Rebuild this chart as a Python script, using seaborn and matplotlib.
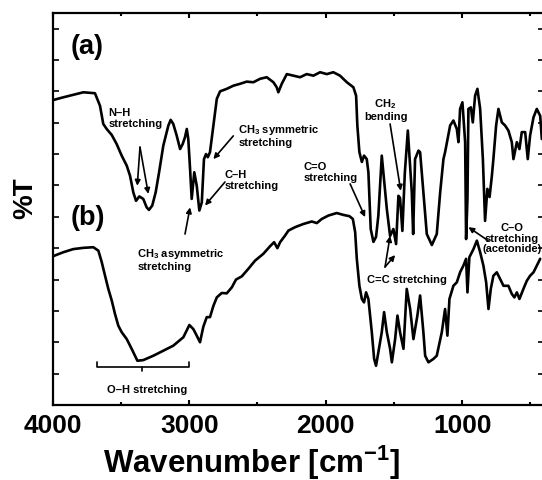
import matplotlib
matplotlib.use("Agg")
import matplotlib.pyplot as plt
import seaborn as sns
import pandas as pd

# ---- data (wavenumber in cm-1, %T in arbitrary offset units) ----
wn_a = [4000, 3923, 3776, 3691, 3654, 3630, 3605, 3568, 3532, 3495,
        3458, 3434, 3410, 3390, 3366, 3337, 3312, 3295, 3271, 3246,
        3221, 3190, 3153, 3136, 3117, 3092, 3067, 3048, 3031, 3018,
        3007, 2994, 2982, 2963, 2945, 2926, 2908, 2892, 2877, 2864,
        2848, 2823, 2798, 2774, 2725, 2677, 2628, 2579, 2530, 2481,
        2432, 2383, 2359, 2347, 2322, 2285, 2237, 2188, 2139, 2090,
        2041, 1992, 1944, 1895, 1845, 1797, 1777, 1768, 1753, 1735,
        1719, 1699, 1687, 1670, 1650, 1631, 1614, 1589, 1552, 1528,
        1504, 1484, 1467, 1455, 1438, 1420, 1398, 1369, 1359, 1345,
        1320, 1308, 1284, 1259, 1222, 1186, 1161, 1137, 1125, 1088,
        1064, 1039, 1027, 1015, 998, 978, 971, 961, 954, 936,
        922, 905, 888, 868, 848, 832, 815, 799, 782, 771,
        751, 734, 709, 685, 661, 636, 624, 599, 580, 563,
        538, 519, 502, 477, 453, 428, 416]
t_a = [9.72, 9.81, 9.97, 9.94, 9.54, 8.96, 8.80, 8.61, 8.32, 7.95,
       7.63, 7.31, 6.78, 6.51, 6.65, 6.57, 6.30, 6.22, 6.36, 6.78,
       7.42, 8.27, 8.91, 9.09, 8.96, 8.59, 8.16, 8.32, 8.54, 8.80,
       8.48, 7.53, 6.57, 7.42, 6.99, 6.20, 6.46, 7.84, 8.00, 7.90,
       8.06, 8.91, 9.76, 10.00, 10.08, 10.18, 10.24, 10.31, 10.29, 10.40,
       10.45, 10.29, 10.13, 9.97, 10.24, 10.55, 10.50, 10.45, 10.55, 10.50,
       10.61, 10.55, 10.61, 10.50, 10.29, 10.13, 9.86, 8.91, 8.06, 7.75,
       7.95, 7.84, 7.42, 5.61, 5.20, 5.36, 6.04, 7.95, 6.25, 5.39,
       5.61, 5.13, 6.67, 6.60, 5.55, 7.40, 8.75, 6.78, 5.45, 7.84,
       8.11, 8.06, 6.78, 5.45, 5.10, 5.45, 6.78, 7.84, 8.06, 8.91,
       9.07, 8.80, 8.38, 9.44, 9.65, 8.38, 5.29, 6.57, 9.44, 9.49,
       9.01, 9.86, 10.08, 9.44, 7.84, 5.87, 6.89, 6.63, 7.31, 7.84,
       8.91, 9.44, 9.01, 8.91, 8.75, 8.38, 7.84, 8.38, 8.16, 8.70,
       8.70, 7.84, 8.59, 9.17, 9.44, 9.22, 8.48]

wn_b = [4000, 3923, 3850, 3776, 3703, 3666, 3641, 3617, 3593, 3568,
        3544, 3520, 3495, 3458, 3422, 3380, 3337, 3263, 3190, 3117,
        3043, 2999, 2970, 2945, 2921, 2897, 2872, 2848, 2823, 2798,
        2762, 2725, 2688, 2657, 2615, 2567, 2518, 2457, 2408, 2378,
        2354, 2334, 2298, 2273, 2224, 2164, 2102, 2065, 2029, 1980,
        1919, 1870, 1826, 1801, 1784, 1772, 1753, 1735, 1719, 1704,
        1687, 1662, 1645, 1631, 1614, 1589, 1572, 1552, 1528, 1515,
        1491, 1474, 1455, 1430, 1406, 1381, 1357, 1328, 1308, 1284,
        1271, 1247, 1210, 1186, 1149, 1125, 1108, 1093, 1064, 1039,
        1015, 991, 971, 961, 947, 917, 892, 868, 844, 824,
        807, 790, 771, 746, 722, 697, 661, 636, 617, 599,
        580, 551, 526, 502, 477, 453, 428]
t_b = [4.74, 4.87, 4.97, 5.01, 5.03, 4.92, 4.55, 4.12, 3.70, 3.33,
       2.90, 2.53, 2.32, 2.10, 1.79, 1.41, 1.43, 1.57, 1.73, 1.89,
       2.16, 2.55, 2.42, 2.21, 2.00, 2.49, 2.80, 2.80, 3.16, 3.43,
       3.57, 3.56, 3.75, 4.00, 4.10, 4.34, 4.60, 4.82, 5.06, 5.19,
       5.00, 5.19, 5.40, 5.56, 5.67, 5.77, 5.85, 5.80, 5.93, 6.04,
       6.12, 6.06, 6.02, 5.93, 5.51, 4.66, 3.80, 3.38, 3.27, 3.59,
       3.38, 2.32, 1.47, 1.25, 1.68, 2.32, 2.96, 2.32, 1.79, 1.36,
       2.10, 2.85, 2.32, 1.79, 3.70, 3.06, 2.10, 2.85, 3.49, 2.32,
       1.57, 1.36, 1.47, 1.57, 2.32, 3.06, 2.21, 3.38, 3.80, 3.91,
       4.23, 4.44, 4.66, 3.59, 4.71, 4.97, 5.24, 4.87, 4.44, 3.91,
       3.06, 3.70, 4.12, 4.23, 4.02, 3.80, 3.80, 3.54, 3.43, 3.59,
       3.38, 3.70, 3.96, 4.12, 4.23, 4.44, 4.66]

x_ticks_major = [4000, 3000, 2000, 1000]
x_ticks_minor = [3500, 2500, 1500, 500]
x_tick_labels = ["4000", "3000", "2000", "1000"]
y_ticks = list(range(1, 13))

sns.set_style("ticks")
plt.rcParams["font.family"] = ["Liberation Sans", "DejaVu Sans"]
plt.rcParams["font.weight"] = "bold"
plt.rcParams["mathtext.default"] = "regular"
for key in ["text.color", "axes.labelcolor", "xtick.color", "ytick.color",
            "axes.edgecolor"]:
    plt.rcParams[key] = "black"

fig = plt.figure(figsize=(5.42, 4.81), dpi=100)
ax = fig.add_axes([0.0974, 0.156, 0.9063, 0.815])

df_a = pd.DataFrame({"wn": wn_a, "T": t_a})
df_b = pd.DataFrame({"wn": wn_b, "T": t_b})
sns.lineplot(data=df_a, x="wn", y="T", ax=ax, color="black", lw=1.9,
             sort=False, estimator=None)
sns.lineplot(data=df_b, x="wn", y="T", ax=ax, color="black", lw=1.9,
             sort=False, estimator=None)

ax.set_xlim(4000, 400)
ax.set_ylim(0, 12.5)
ax.set_xticks(x_ticks_major)
ax.set_xticklabels(x_tick_labels)
ax.set_xticks(x_ticks_minor, minor=True)
ax.set_yticks(y_ticks)
ax.set_yticklabels([])
ax.tick_params(axis="x", which="major", direction="in", length=3.5, width=1.5,
               top=True, bottom=True, labelsize=19, pad=6, colors="black")
ax.tick_params(axis="x", which="minor", direction="in", length=2, width=1.5,
               top=True, bottom=True, colors="black")
ax.tick_params(axis="y", which="major", direction="in", length=4, width=1.2,
               left=True, right=True, colors="black")
for lab in ax.get_xticklabels():
    lab.set_fontweight("bold")
for s in ax.spines.values():
    s.set_linewidth(1.6)
    s.set_color("black")

ax.set_xlabel("Wavenumber [cm$^{-1}$]", fontsize=22.5, fontweight="bold",
              labelpad=4, color="black")
ax.xaxis.label.set_x(0.4045)
ax.set_ylabel("%T", fontsize=20, fontweight="bold", labelpad=7, color="black")
ax.yaxis.label.set_y(0.53)

# panel labels
ax.text(3870, 11.45, "(a)", fontsize=19.5, fontweight="bold", ha="left",
        va="center", color="black")
ax.text(3870, 5.98, "(b)", fontsize=19.5, fontweight="bold", ha="left",
        va="center", color="black")

fs = 8
kw = dict(fontsize=fs, fontweight="bold", va="top", linespacing=1.1, color="black")
ax.text(3593, 9.50, "N–H\nstretching", ha="left", **kw)
ax.text(2640, 9.02, "CH$_3$ symmetric\nstretching", ha="left", **kw)
ax.text(2738, 7.53, "C–H\nstretching", ha="left", **kw)
ax.text(3381, 5.07, "CH$_3$ asymmetric\nstretching", ha="left", **kw)
ax.text(2164, 7.78, "C=O\nstretching", ha="left", **kw)
ax.text(1561, 9.85, "CH$_2$\nbending", ha="center", multialignment="center", **kw)
ax.text(1699, 4.18, "C=C stretching", ha="left", **kw)
ax.text(637, 5.84, "C–O\nstretching\n(acetonide)", ha="center",
        multialignment="center", **kw)
ax.text(3306, 0.67, "O–H stretching", ha="center", **kw)

ap = dict(arrowstyle="-|>", color="black", lw=1.2, mutation_scale=8,
          shrinkA=0, shrinkB=0)
arrows = [
    ((3361, 8.22), (3381, 6.99)),
    ((3361, 8.22), (3300, 6.73)),
    ((2677, 8.58), (2823, 7.84)),
    ((2738, 7.11), (2884, 6.36)),
    ((3031, 5.45), (2994, 6.30)),
    ((1821, 7.05), (1711, 5.99)),
    ((1528, 8.96), (1450, 6.83)),
    ((1565, 4.40), (1528, 5.39)),
    ((1565, 4.40), (1491, 4.78)),
    ((810, 5.24), (954, 5.67)),
]
for start, tip in arrows:
    ax.annotate("", xy=tip, xytext=start, arrowprops=ap)

# O-H bracket
ax.plot([3678, 3678, 3000, 3000], [1.37, 1.20, 1.20, 1.37], color="black", lw=1.2)
ax.plot([3348, 3348], [1.20, 1.09], color="black", lw=1.2)

fig.savefig("out.png", dpi=100)
